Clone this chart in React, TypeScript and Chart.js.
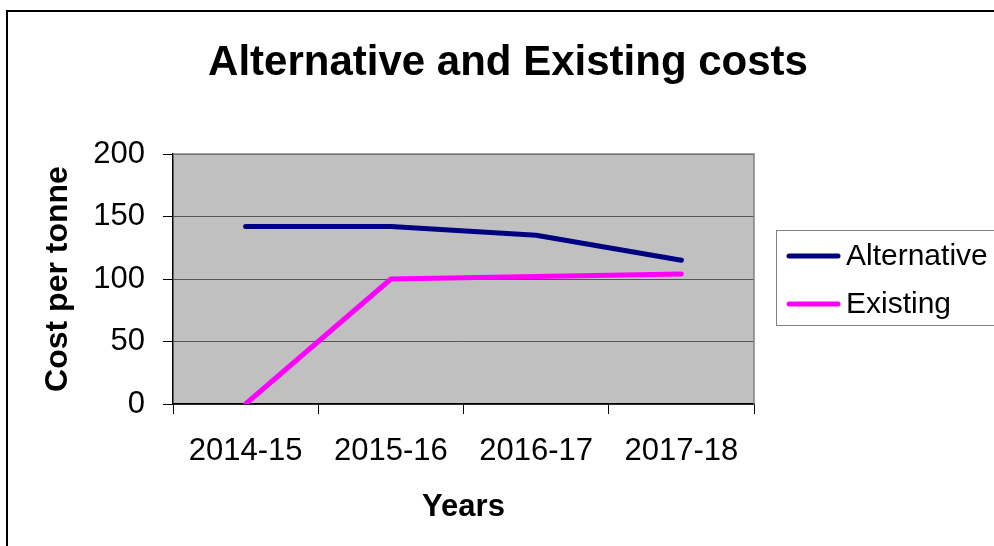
import React, { useEffect, useRef } from "react";
import { Chart, registerables } from "chart.js";

Chart.register(...registerables);

const categories = ["2014-15", "2015-16", "2016-17", "2017-18"];
const alternative = [142, 142, 135, 115];
const existing = [0, 100, 102, 104];
const seriesNames = ["Alternative", "Existing"];
const seriesColors = ["#000080", "#FF00FF"];
const yTicks = { min: 0, max: 200, step: 50 };
const chartTitle = "Alternative and Existing costs";

const FONT = "'Liberation Sans', Arial, Helvetica, sans-serif";

const decorPlugin = {
  id: "decor",
  beforeDraw(chart: any) {
    const { ctx, chartArea: a } = chart;
    ctx.save();
    ctx.fillStyle = "#ffffff";
    ctx.fillRect(0, 0, chart.width, chart.height);
    // outer frame
    ctx.strokeStyle = "#000000";
    ctx.lineWidth = 2;
    ctx.strokeRect(7, 11, chart.width + 20, chart.height + 20);
    // plot background
    ctx.fillStyle = "#C0C0C0";
    ctx.fillRect(a.left, a.top, a.right - a.left, a.bottom - a.top);
    ctx.restore();
  },
  beforeDatasetsDraw(chart: any) {
    const { ctx, chartArea: a } = chart;
    ctx.save();
    ctx.strokeStyle = "#808080";
    ctx.lineWidth = 1.5;
    ctx.beginPath();
    ctx.moveTo(a.left, a.top);
    ctx.lineTo(a.right, a.top);
    ctx.lineTo(a.right, a.bottom);
    ctx.stroke();
    ctx.restore();
  },
  afterDraw(chart: any) {
    const { ctx } = chart;
    ctx.save();
    // title
    ctx.fillStyle = "#000000";
    ctx.font = `bold 42px ${FONT}`;
    ctx.textAlign = "center";
    ctx.textBaseline = "alphabetic";
    ctx.fillText(chartTitle, 508, 75);
    // legend box
    ctx.fillStyle = "#ffffff";
    ctx.fillRect(776, 230, 240, 95);
    ctx.strokeStyle = "#808080";
    ctx.lineWidth = 1;
    ctx.strokeRect(776.5, 230.5, 240, 95);
    chart.data.datasets.forEach((ds: any, i: number) => {
      const y = 256 + i * 48;
      ctx.strokeStyle = ds.borderColor;
      ctx.lineWidth = 5;
      ctx.lineCap = "round";
      ctx.beginPath();
      ctx.moveTo(789, y);
      ctx.lineTo(838, y);
      ctx.stroke();
      ctx.fillStyle = "#000000";
      ctx.font = `30px ${FONT}`;
      ctx.textAlign = "left";
      ctx.textBaseline = "middle";
      ctx.fillText(ds.label, 846, y + 1);
    });
    ctx.restore();
  },
};

export default function App() {
  const ref = useRef<HTMLCanvasElement | null>(null);
  useEffect(() => {
    document.body.style.margin = "0";
    const canvas = ref.current;
    if (!canvas) return;
    const chart = new Chart(canvas, {
      type: "line",
      data: {
        labels: categories,
        datasets: [
          {
            label: seriesNames[0],
            data: alternative,
            borderColor: seriesColors[0],
            backgroundColor: seriesColors[0],
            borderWidth: 5,
            pointRadius: 0,
            tension: 0,
            borderCapStyle: "round",
            borderJoinStyle: "round",
          },
          {
            label: seriesNames[1],
            data: existing,
            borderColor: seriesColors[1],
            backgroundColor: seriesColors[1],
            borderWidth: 5,
            pointRadius: 0,
            tension: 0,
            borderCapStyle: "round",
            borderJoinStyle: "round",
          },
        ],
      },
      options: {
        animation: false,
        responsive: false,
        maintainAspectRatio: false,
        devicePixelRatio: 1,
        layout: { padding: { left: 20, right: 240, top: 154, bottom: 0 } },
        plugins: {
          legend: { display: false },
          tooltip: { enabled: false },
          title: { display: false },
        },
        scales: {
          x: {
            offset: true,
            grid: {
              offset: true,
              drawOnChartArea: false,
              tickLength: 10,
              tickColor: "#000000",
              lineWidth: 1,
            },
            border: { display: true, color: "#000000", width: 1.5 },
            ticks: {
              color: "#000000",
              padding: 19,
              maxRotation: 0,
              font: { family: FONT, size: 31, lineHeight: 1.2 },
            },
            title: {
              display: true,
              text: "Years",
              color: "#000000",
              font: { family: FONT, size: 31, weight: "bold", lineHeight: 1.2 },
              padding: { top: 0, bottom: 20 },
            },
            afterFit(scale: any) {
              scale.height = 142;
            },
          },
          y: {
            min: yTicks.min,
            max: yTicks.max,
            grid: {
              color: "#555555",
              lineWidth: 1,
              tickLength: 10,
              tickColor: "#000000",
            },
            border: { display: true, color: "#000000", width: 1.5 },
            ticks: {
              stepSize: yTicks.step,
              color: "#000000",
              padding: 18,
              font: { family: FONT, size: 31, lineHeight: 1.2 },
            },
            title: {
              display: true,
              text: "Cost per tonne",
              color: "#000000",
              font: { family: FONT, size: 32, weight: "bold", lineHeight: 1.2 },
              padding: { top: 19, bottom: 0 },
            },
            afterFit(scale: any) {
              scale.width = 153;
            },
          },
        },
      },
      plugins: [decorPlugin],
    });
    return () => chart.destroy();
  }, []);
  return (
    <div style={{ width: 994, height: 546, overflow: "hidden" }}>
      <canvas ref={ref} width={994} height={546} style={{ display: "block", width: 994, height: 546 }} />
    </div>
  );
}
